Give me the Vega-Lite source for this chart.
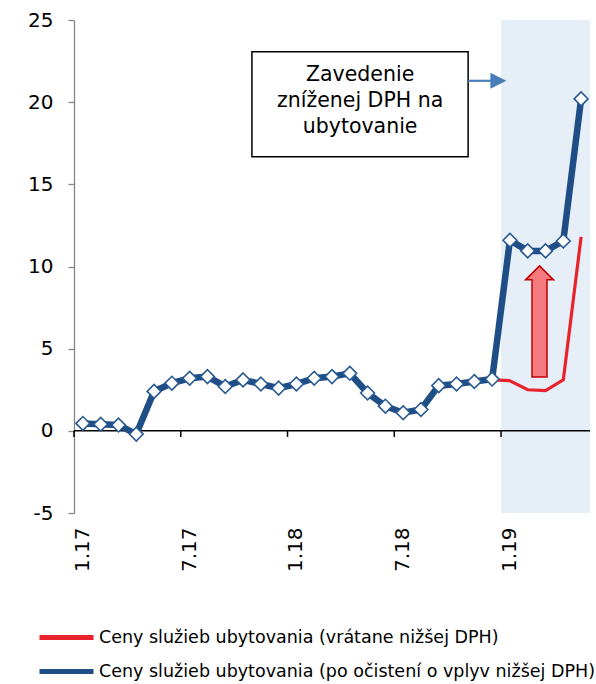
{
  "$schema": "https://vega.github.io/schema/vega-lite/v6.json",
  "width": 516,
  "height": 493,
  "autosize": {"type": "none"},
  "padding": {"left": 74, "top": 20, "right": 6, "bottom": 171},
  "background": "white",
  "config": {"view": {"stroke": null}, "font": "DejaVu Sans"},
  "datasets": {
    "series": [
      {"mesiac": "1.17", "seria": "Ceny služieb ubytovania (po očistení o vplyv nižšej DPH)", "hodnota": 0.45},
      {"mesiac": "2.17", "seria": "Ceny služieb ubytovania (po očistení o vplyv nižšej DPH)", "hodnota": 0.4},
      {"mesiac": "3.17", "seria": "Ceny služieb ubytovania (po očistení o vplyv nižšej DPH)", "hodnota": 0.35},
      {"mesiac": "4.17", "seria": "Ceny služieb ubytovania (po očistení o vplyv nižšej DPH)", "hodnota": -0.2},
      {"mesiac": "5.17", "seria": "Ceny služieb ubytovania (po očistení o vplyv nižšej DPH)", "hodnota": 2.4},
      {"mesiac": "6.17", "seria": "Ceny služieb ubytovania (po očistení o vplyv nižšej DPH)", "hodnota": 2.9},
      {"mesiac": "7.17", "seria": "Ceny služieb ubytovania (po očistení o vplyv nižšej DPH)", "hodnota": 3.2},
      {"mesiac": "8.17", "seria": "Ceny služieb ubytovania (po očistení o vplyv nižšej DPH)", "hodnota": 3.3},
      {"mesiac": "9.17", "seria": "Ceny služieb ubytovania (po očistení o vplyv nižšej DPH)", "hodnota": 2.7},
      {"mesiac": "10.17", "seria": "Ceny služieb ubytovania (po očistení o vplyv nižšej DPH)", "hodnota": 3.1},
      {"mesiac": "11.17", "seria": "Ceny služieb ubytovania (po očistení o vplyv nižšej DPH)", "hodnota": 2.85},
      {"mesiac": "12.17", "seria": "Ceny služieb ubytovania (po očistení o vplyv nižšej DPH)", "hodnota": 2.6},
      {"mesiac": "1.18", "seria": "Ceny služieb ubytovania (po očistení o vplyv nižšej DPH)", "hodnota": 2.85},
      {"mesiac": "2.18", "seria": "Ceny služieb ubytovania (po očistení o vplyv nižšej DPH)", "hodnota": 3.2},
      {"mesiac": "3.18", "seria": "Ceny služieb ubytovania (po očistení o vplyv nižšej DPH)", "hodnota": 3.3},
      {"mesiac": "4.18", "seria": "Ceny služieb ubytovania (po očistení o vplyv nižšej DPH)", "hodnota": 3.5},
      {"mesiac": "5.18", "seria": "Ceny služieb ubytovania (po očistení o vplyv nižšej DPH)", "hodnota": 2.3},
      {"mesiac": "6.18", "seria": "Ceny služieb ubytovania (po očistení o vplyv nižšej DPH)", "hodnota": 1.5},
      {"mesiac": "7.18", "seria": "Ceny služieb ubytovania (po očistení o vplyv nižšej DPH)", "hodnota": 1.1},
      {"mesiac": "8.18", "seria": "Ceny služieb ubytovania (po očistení o vplyv nižšej DPH)", "hodnota": 1.3},
      {"mesiac": "9.18", "seria": "Ceny služieb ubytovania (po očistení o vplyv nižšej DPH)", "hodnota": 2.75},
      {"mesiac": "10.18", "seria": "Ceny služieb ubytovania (po očistení o vplyv nižšej DPH)", "hodnota": 2.85},
      {"mesiac": "11.18", "seria": "Ceny služieb ubytovania (po očistení o vplyv nižšej DPH)", "hodnota": 3.0},
      {"mesiac": "12.18", "seria": "Ceny služieb ubytovania (po očistení o vplyv nižšej DPH)", "hodnota": 3.15},
      {"mesiac": "1.19", "seria": "Ceny služieb ubytovania (po očistení o vplyv nižšej DPH)", "hodnota": 11.6},
      {"mesiac": "2.19", "seria": "Ceny služieb ubytovania (po očistení o vplyv nižšej DPH)", "hodnota": 10.95},
      {"mesiac": "3.19", "seria": "Ceny služieb ubytovania (po očistení o vplyv nižšej DPH)", "hodnota": 10.95},
      {"mesiac": "4.19", "seria": "Ceny služieb ubytovania (po očistení o vplyv nižšej DPH)", "hodnota": 11.55},
      {"mesiac": "5.19", "seria": "Ceny služieb ubytovania (po očistení o vplyv nižšej DPH)", "hodnota": 20.2},
      {"mesiac": "12.18", "seria": "Ceny služieb ubytovania (vrátane nižšej DPH)", "hodnota": 3.1},
      {"mesiac": "1.19", "seria": "Ceny služieb ubytovania (vrátane nižšej DPH)", "hodnota": 3.05},
      {"mesiac": "2.19", "seria": "Ceny služieb ubytovania (vrátane nižšej DPH)", "hodnota": 2.5},
      {"mesiac": "3.19", "seria": "Ceny služieb ubytovania (vrátane nižšej DPH)", "hodnota": 2.45},
      {"mesiac": "4.19", "seria": "Ceny služieb ubytovania (vrátane nižšej DPH)", "hodnota": 3.1},
      {"mesiac": "5.19", "seria": "Ceny služieb ubytovania (vrátane nižšej DPH)", "hodnota": 11.8}
    ],
    "shade": [{"od": "1.19", "do": "5.19"}],
    "box": [{"od": "11.17", "do": "11.18", "hore": 23.07, "dole": 16.68}],
    "popis": [{"mesiac": "5.18", "hodnota": 21.65, "text": "Zavedenie|zníženej DPH na|ubytovanie"}],
    "ticks": [{"mesiac": "1.17"}, {"mesiac": "7.17"}, {"mesiac": "1.18"}, {"mesiac": "7.18"}, {"mesiac": "1.19"}],
    "sipka": [{"od": "11.18", "do": "12.18", "hodnota": 21.3}],
    "sipka2": [{"mesiac": "3.19", "hodnota": 6.66}]
  },
  "layer": [
    {
      "data": {"name": "shade"},
      "mark": {"type": "rect", "color": "#E6EEF8"},
      "encoding": {
        "x": {"field": "od", "type": "ordinal", "bandPosition": 0,
          "scale": {"type": "band", "paddingInner": 0, "paddingOuter": 0,
            "domain": ["1.17","2.17","3.17","4.17","5.17","6.17","7.17","8.17","9.17","10.17","11.17","12.17","1.18","2.18","3.18","4.18","5.18","6.18","7.18","8.18","9.18","10.18","11.18","12.18","1.19","2.19","3.19","4.19","5.19"]},
          "axis": {"title": null, "orient": "bottom", "values": ["1.17","7.17","1.18","7.18","1.19"], "bandPosition": 0.5, "labelAngle": 270, "labelAlign": "right", "labelBaseline": "middle", "labelFontSize": 20, "labelColor": "black", "labelPadding": 14, "ticks": false, "domain": false, "grid": false}},
        "x2": {"field": "do", "bandPosition": 1},
        "y": {"datum": -5, "type": "quantitative", "scale": {"domain": [-5, 25], "nice": false, "zero": false},
          "axis": {"title": null, "orient": "left", "values": [-5, 0, 5, 10, 15, 20, 25], "labelExpr": "'' + datum.value", "domainColor": "#868686", "domainWidth": 1.3, "tickColor": "#868686", "tickWidth": 1.3, "tickSize": 6, "labelFontSize": 20, "labelColor": "black", "labelPadding": 15, "grid": false}},
        "y2": {"datum": 25}
      }
    },
    {
      "data": {"name": "box"},
      "mark": {"type": "rect", "fill": "white", "stroke": "black", "strokeWidth": 1.5},
      "encoding": {
        "x": {"field": "od", "type": "ordinal", "bandPosition": 0, "axis": {"title": null}},
        "x2": {"field": "do", "bandPosition": 0.15},
        "y": {"field": "hore", "type": "quantitative", "axis": {"title": null}},
        "y2": {"field": "dole"}
      }
    },
    {
      "data": {"name": "popis"},
      "mark": {"type": "text", "fontSize": 20.5, "lineHeight": 26, "lineBreak": "|", "align": "center", "baseline": "middle", "color": "black"},
      "encoding": {
        "x": {"field": "mesiac", "type": "ordinal", "bandPosition": 0.08, "axis": {"title": null}},
        "y": {"field": "hodnota", "type": "quantitative", "axis": {"title": null}},
        "text": {"field": "text"}
      }
    },
    {
      "data": {"name": "sipka"},
      "mark": {"type": "rule", "color": "#4A7EBB", "strokeWidth": 2.2},
      "encoding": {
        "x": {"field": "od", "type": "ordinal", "bandPosition": 0.15, "axis": {"title": null}},
        "x2": {"field": "do", "bandPosition": 0.6},
        "y": {"field": "hodnota", "type": "quantitative", "axis": {"title": null}}
      }
    },
    {
      "data": {"name": "sipka"},
      "mark": {"type": "point", "shape": "M-1,-1L1,0L-1,1Z", "filled": true, "color": "#4A7EBB", "opacity": 1, "size": 256},
      "encoding": {
        "x": {"field": "do", "type": "ordinal", "bandPosition": 0.85, "axis": {"title": null}},
        "y": {"field": "hodnota", "type": "quantitative", "axis": {"title": null}}
      }
    },
    {
      "data": {"values": [{"nula": 0}]},
      "mark": {"type": "rule", "color": "black", "strokeWidth": 1.5},
      "encoding": {
        "y": {"field": "nula", "type": "quantitative", "axis": {"title": null}}
      }
    },
    {
      "data": {"name": "ticks"},
      "mark": {"type": "rule", "color": "black", "strokeWidth": 1.5},
      "encoding": {
        "x": {"field": "mesiac", "type": "ordinal", "bandPosition": 0, "axis": {"title": null}},
        "y": {"datum": 0, "type": "quantitative"},
        "y2": {"datum": -0.37}
      }
    },
    {
      "data": {"name": "sipka2"},
      "mark": {"type": "point", "shape": "M-0.108,-1L0.144,-0.748L0.027,-0.748L0.027,1L-0.243,1L-0.243,-0.748L-0.36,-0.748Z", "filled": true, "fill": "#F47A7E", "stroke": "#C00000", "strokeWidth": 1.5, "opacity": 1, "size": 12321},
      "encoding": {
        "x": {"field": "mesiac", "type": "ordinal", "bandPosition": 0.5, "axis": {"title": null}},
        "y": {"field": "hodnota", "type": "quantitative", "axis": {"title": null}}
      }
    },
    {
      "data": {"name": "series"},
      "transform": [{"filter": "datum.seria === 'Ceny služieb ubytovania (vrátane nižšej DPH)'"}],
      "mark": {"type": "line", "strokeWidth": 3.2},
      "encoding": {
        "x": {"field": "mesiac", "type": "ordinal", "bandPosition": 0.5, "axis": {"title": null}},
        "y": {"field": "hodnota", "type": "quantitative", "axis": {"title": null}},
        "color": {"field": "seria", "type": "nominal",
          "scale": {"domain": ["Ceny služieb ubytovania (vrátane nižšej DPH)", "Ceny služieb ubytovania (po očistení o vplyv nižšej DPH)"], "range": ["#E8232B", "#1F4E86"]},
          "legend": {"orient": "none", "legendX": -19, "legendY": 606, "direction": "vertical", "title": null, "symbolType": "M-3,0L3,0", "symbolSize": 324, "symbolStrokeWidth": 5, "labelFontSize": 17.5, "labelColor": "black", "labelOffset": 21, "rowPadding": 12, "labelLimit": 700}
        }
      }
    },
    {
      "data": {"name": "series"},
      "transform": [{"filter": "datum.seria === 'Ceny služieb ubytovania (po očistení o vplyv nižšej DPH)'"}],
      "mark": {"type": "line", "strokeWidth": 6.5},
      "encoding": {
        "x": {"field": "mesiac", "type": "ordinal", "bandPosition": 0.5, "axis": {"title": null}},
        "y": {"field": "hodnota", "type": "quantitative", "axis": {"title": null}},
        "color": {"field": "seria", "type": "nominal"}
      }
    },
    {
      "data": {"name": "series"},
      "transform": [{"filter": "datum.seria === 'Ceny služieb ubytovania (po očistení o vplyv nižšej DPH)'"}],
      "mark": {"type": "point", "shape": "diamond", "filled": true, "fill": "white", "stroke": "#2A5A93", "strokeWidth": 1.6, "opacity": 1, "size": 190},
      "encoding": {
        "x": {"field": "mesiac", "type": "ordinal", "bandPosition": 0.5, "axis": {"title": null}},
        "y": {"field": "hodnota", "type": "quantitative", "axis": {"title": null}}
      }
    }
  ]
}
